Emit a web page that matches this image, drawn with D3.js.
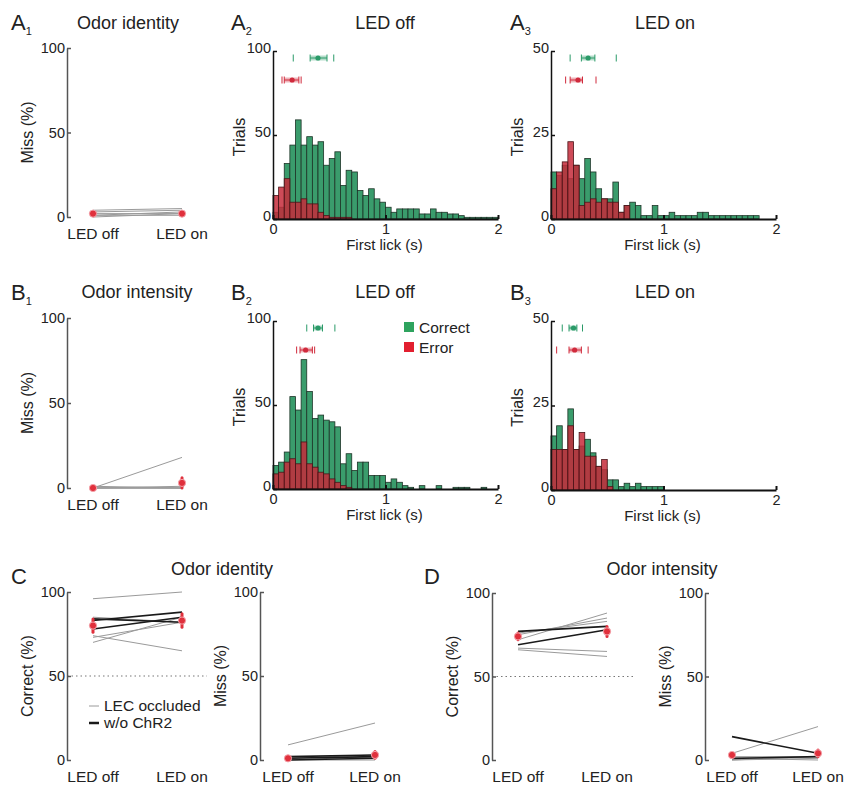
<!DOCTYPE html>
<html>
<head>
<meta charset="utf-8">
<script src="https://cdn.jsdelivr.net/npm/d3@7"></script>
<style>
body { margin: 0; background: #fff; }
text { font-family: "Liberation Sans", Arial, sans-serif; fill: #222; }
</style>
</head>
<body>
<svg width="848" height="787"></svg>
<script>
// ---- data ----
var conditions = ["LED off", "LED on"];
var binW = 0.05;
var binStarts = [0,0.05,0.1,0.15,0.2,0.25,0.3,0.35,0.4,0.45,0.5,0.55,0.6,0.65,0.7,0.75,0.8,0.85,0.9,0.95,
                 1,1.05,1.1,1.15,1.2,1.25,1.3,1.35,1.4,1.45,1.5,1.55,1.6,1.65,1.7,1.75,1.8,1.85,1.9,1.95];
var histXTicks = [0, 1, 2];

// A2: odor identity, LED off
var a2Correct = [4,7,33,44,59,44,49,44,46,32,36,40,20,29,28,17,14,18,12,10,7,4,6,6,6,6,3,3,6,4,4,3,3,2,1,1,1,1,1,1];
var a2Error   = [14,19,24,10,10,12,9,9,4,2,1,1,1,1,0,0,0,0,0,0,0,0,0,0,0,0,0,0,0,0,0,0,0,0,0,0,0,0,0,0];
// A3: odor identity, LED on
var a3Correct = [14,13,16,12,16,12,18,14,9,6,6,11,2,4,5,4,1,1,4,1,1,2,1,1,1,1,2,2,1,1,1,1,1,1,1,1,1,0,0,0];
var a3Error   = [9,14,17,23,16,4,5,6,5,6,5,5,2,4,0,0,0,0,0,0,0,0,0,0,0,0,0,0,0,0,0,0,0,0,0,0,0,0,0,0];
// B2: odor intensity, LED off
var b2Correct = [14,16,22,55,47,77,58,42,44,41,40,37,15,21,11,16,16,8,8,8,4,6,4,2,1,0,2,0,0,2,0,0,1,1,1,0,0,1,0,0];
var b2Error   = [9,10,16,18,15,28,15,13,10,9,6,4,2,1,0,0,0,0,0,0,0,0,0,0,0,0,0,0,0,0,0,0,0,0,0,0,0,0,0,0];
// B3: odor intensity, LED on
var b3Correct = [16,19,12,24,12,13,15,11,7,6,3,3,1,2,1,2,1,1,1,1,0,0,0,0,0,0,0,0,0,0,0,0,0,0,0,0,0,0,0,0];
var b3Error   = [12,12,12,19,12,17,10,10,7,9,1,0,0,0,0,0,0,0,0,0,0,0,0,0,0,0,0,0,0,0,0,0,0,0,0,0,0,0,0,0];

// first-lick summary markers: [low, q1, median, q3, high] (s)
var a2CorrectSum = [0.18, 0.33, 0.40, 0.48, 0.54];
var a2ErrorSum   = [0.08, 0.10, 0.17, 0.23, 0.25];
var a3CorrectSum = [0.17, 0.27, 0.33, 0.39, 0.58];
var a3ErrorSum   = [0.13, 0.17, 0.24, 0.28, 0.40];
var b2CorrectSum = [0.30, 0.36, 0.40, 0.44, 0.55];
var b2ErrorSum   = [0.21, 0.24, 0.29, 0.35, 0.37];
var b3CorrectSum = [0.10, 0.16, 0.20, 0.23, 0.28];
var b3ErrorSum   = [0.05, 0.16, 0.21, 0.27, 0.33];

// per-animal values [LED off, LED on] (%)
var a1Miss = [[3,4],[2,2],[1,1],[0,2],[4,5],[1,3]];
var a1MissMean = [2, 2], a1MissSem = [1, 1];
var b1Miss = [[0,18],[0,0],[0,0],[0,1],[1,0],[0,0]];
var b1MissMean = [0, 3], b1MissSem = [0.5, 3];

var cCorrectLec  = [[96,100],[74,65],[70,85],[73,82],[85,82]];
var cCorrectCtrl = [[83,88],[84,82],[78,85]];
var cCorrectMean = [80, 83], cCorrectSem = [4, 4];
var cMissLec  = [[9,22],[1,3],[0,2],[2,1],[0,0]];
var cMissCtrl = [[1,2],[2,3],[0,1]];
var cMissMean = [1, 3], cMissSem = [1, 2];

var dCorrectLec  = [[66,62],[67,65],[72,88],[75,85],[76,83]];
var dCorrectCtrl = [[77,80],[69,78]];
var dCorrectMean = [74, 77], dCorrectSem = [2, 3];
var dMissLec  = [[4,20],[0,1],[1,0],[0,2],[2,2]];
var dMissCtrl = [[14,4],[1,2]];
var dMissMean = [3, 4], dMissSem = [1, 2];

var lineYTicks = [0, 50, 100];

// ---- drawing ----
var svg = d3.select("svg");
var green = "#3a9c6c", red = "#c62b3b";

function panelLetter(x, y, letter, sub) {
    var t = svg.append("text").attr("x", x).attr("y", y).style("font-size", "22px");
    t.append("tspan").text(letter);
    if (sub) t.append("tspan").attr("dy", 5).style("font-size", "11px").text(sub);
}

function title(x, y, s) {
    svg.append("text").attr("x", x).attr("y", y).attr("text-anchor", "middle")
        .style("font-size", "18px").text(s);
}

function yLabel(x, y, s) {
    svg.append("text").attr("transform", "translate(" + x + "," + y + ") rotate(-90)")
        .attr("text-anchor", "middle").style("font-size", "16px").text(s);
}

function styleAxis(a, col, w) {
    a.selectAll("path").attr("stroke", col).attr("stroke-width", w);
    a.selectAll("line").attr("stroke", col).attr("stroke-width", w);
    a.selectAll("text").style("font-size", "14.5px").attr("fill", "#222");
}

function histPanel(p) {
    var x = d3.scaleLinear().domain([0, 2]).range([p.x0, p.x1]);
    var y = d3.scaleLinear().domain([0, p.ymax]).range([p.y0, p.y1]);
    var g = svg.append("g");
    var bw = x(binW) - x(0);

    function bars(counts, fill, stroke, op) {
        g.selectAll(null)
            .data(binStarts.map(function(b, i) { return {b: b, n: counts[i]}; })
                .filter(function(d) { return d.n > 0; }))
            .enter().append("rect")
            .attr("x", function(d) { return x(d.b); })
            .attr("width", bw)
            .attr("y", function(d) { return y(d.n); })
            .attr("height", function(d) { return y(0) - y(d.n); })
            .attr("fill", fill).attr("fill-opacity", op)
            .attr("stroke", stroke).attr("stroke-width", 0.8);
    }
    bars(p.correct, green, "#1d3327", 1);
    bars(p.error, red, "#4a1418", 0.85);

    function marker(s, yy, col) {
        g.append("rect").attr("x", x(s[1])).attr("y", yy - 2.5)
            .attr("width", x(s[3]) - x(s[1])).attr("height", 5)
            .attr("fill", col).attr("fill-opacity", 0.35);
        g.append("line").attr("x1", x(s[1])).attr("x2", x(s[3]))
            .attr("y1", yy).attr("y2", yy).attr("stroke", col).attr("stroke-width", 1);
        [s[0], s[1], s[3], s[4]].forEach(function(v) {
            g.append("line").attr("x1", x(v)).attr("x2", x(v))
                .attr("y1", yy - 3.5).attr("y2", yy + 3.5)
                .attr("stroke", col).attr("stroke-width", 1);
        });
        g.append("circle").attr("cx", x(s[2])).attr("cy", yy).attr("r", 2.6).attr("fill", col);
    }
    marker(p.cSum, p.y1 + 7, "#2a9a68");
    marker(p.eSum, p.y1 + 29, "#d02a3c");

    var ax = g.append("g").attr("transform", "translate(0," + p.y0 + ")")
        .call(d3.axisBottom(x).tickValues(histXTicks).tickFormat(d3.format("d"))
            .tickSizeInner(-4).tickSizeOuter(0).tickPadding(5));
    styleAxis(ax, "#111", 2);
    var ay = g.append("g").attr("transform", "translate(" + p.x0 + ",0)")
        .call(d3.axisLeft(y).tickValues(p.yTicks).tickSizeInner(-4).tickSizeOuter(0).tickPadding(2));
    styleAxis(ay, "#111", 1.5);
    ay.selectAll(".tick text").attr("dy", "0.1em");

    svg.append("text").attr("x", (p.x0 + p.x1) / 2 - 1).attr("y", p.y0 + 31)
        .attr("text-anchor", "middle").style("font-size", "15px").text("First lick (s)");
    yLabel(p.x0 - 28, (p.y0 + p.y1) / 2 + 2, "Trials");
}

function linePanel(p) {
    var x = d3.scalePoint().domain(conditions).range([p.off, p.on]);
    var y = d3.scaleLinear().domain([0, 100]).range([p.y0, p.y100]);
    var g = svg.append("g");

    if (p.chance) {
        g.append("line").attr("x1", p.ax).attr("x2", p.chanceEnd)
            .attr("y1", y(50)).attr("y2", y(50))
            .attr("stroke", "#777").attr("stroke-width", 1.2).attr("stroke-dasharray", "1.5,3");
    }

    var ay = g.append("g").attr("transform", "translate(" + p.ax + ",0)")
        .call(d3.axisLeft(y).tickValues(lineYTicks).tickSizeInner(-4).tickSizeOuter(0).tickPadding(2));
    styleAxis(ay, "#555", 1.5);

    function drawLines(rows, col, w) {
        g.selectAll(null).data(rows).enter().append("line")
            .attr("x1", x(conditions[0])).attr("x2", x(conditions[1]))
            .attr("y1", function(d) { return y(d[0]); })
            .attr("y2", function(d) { return y(d[1]); })
            .attr("stroke", col).attr("stroke-width", w);
    }
    drawLines(p.lec, "#9a9a9a", 1);
    if (p.ctrl) drawLines(p.ctrl, "#1a1a1a", 1.6);

    conditions.forEach(function(c, i) {
        g.append("line").attr("x1", x(c)).attr("x2", x(c))
            .attr("y1", y(p.mean[i] - p.sem[i])).attr("y2", y(p.mean[i] + p.sem[i]))
            .attr("stroke", "#e0303c").attr("stroke-width", 3).attr("stroke-linecap", "round");
        g.append("circle").attr("cx", x(c)).attr("cy", y(p.mean[i])).attr("r", 3.6)
            .attr("fill", "#e0303c").attr("stroke", "#f4a0a8").attr("stroke-width", 1);
    });

    g.selectAll(null).data(conditions).enter().append("text")
        .attr("x", function(d) { return x(d); }).attr("y", p.y0 + 22)
        .attr("text-anchor", "middle").style("font-size", "15.5px")
        .text(function(d) { return d; });

    yLabel(p.ax - 34, (p.y0 + p.y100) / 2, p.label);
}

// row A
panelLetter(11, 30, "A", "1");
title(128, 29, "Odor identity");
linePanel({ax: 67, y0: 217, y100: 48, off: 93, on: 182, lec: a1Miss, mean: a1MissMean, sem: a1MissSem, label: "Miss (%)"});

panelLetter(231, 30, "A", "2");
title(385, 29, "LED off");
histPanel({x0: 273, x1: 498, y0: 219, y1: 51, ymax: 100, yTicks: [0, 50, 100],
    correct: a2Correct, error: a2Error, cSum: a2CorrectSum, eSum: a2ErrorSum});

panelLetter(510, 30, "A", "3");
title(665, 29, "LED on");
histPanel({x0: 551, x1: 776, y0: 219, y1: 51, ymax: 50, yTicks: [0, 25, 50],
    correct: a3Correct, error: a3Error, cSum: a3CorrectSum, eSum: a3ErrorSum});

// row B
panelLetter(11, 300, "B", "1");
title(137, 298, "Odor intensity");
linePanel({ax: 67, y0: 488, y100: 318, off: 93, on: 182, lec: b1Miss, mean: b1MissMean, sem: b1MissSem, label: "Miss (%)"});

panelLetter(231, 300, "B", "2");
title(385, 298, "LED off");
histPanel({x0: 273, x1: 498, y0: 489, y1: 321, ymax: 100, yTicks: [0, 50, 100],
    correct: b2Correct, error: b2Error, cSum: b2CorrectSum, eSum: b2ErrorSum});

panelLetter(510, 300, "B", "3");
title(665, 298, "LED on");
histPanel({x0: 551, x1: 776, y0: 490, y1: 321, ymax: 50, yTicks: [0, 25, 50],
    correct: b3Correct, error: b3Error, cSum: b3CorrectSum, eSum: b3ErrorSum});

// legend in B2
var legend = [{name: "Correct", col: "#2ea35e"}, {name: "Error", col: "#e21f2f"}];
svg.selectAll(null).data(legend).enter().append("rect")
    .attr("x", 404).attr("y", function(d, i) { return 322 + i * 20; })
    .attr("width", 10).attr("height", 10).attr("fill", function(d) { return d.col; });
svg.selectAll(null).data(legend).enter().append("text")
    .attr("x", 419).attr("y", function(d, i) { return 333 + i * 20; })
    .style("font-size", "15.5px").text(function(d) { return d.name; });

// row C
panelLetter(11, 584, "C");
title(222, 575, "Odor identity");
linePanel({ax: 67, y0: 760, y100: 592, off: 93, on: 182, lec: cCorrectLec, ctrl: cCorrectCtrl,
    mean: cCorrectMean, sem: cCorrectSem, label: "Correct (%)", chance: true, chanceEnd: 207});
linePanel({ax: 260, y0: 760, y100: 592, off: 288, on: 375, lec: cMissLec, ctrl: cMissCtrl,
    mean: cMissMean, sem: cMissSem, label: "Miss (%)"});

var lineLegend = [{name: "LEC occluded", col: "#9a9a9a", w: 1}, {name: "w/o ChR2", col: "#1a1a1a", w: 2.5}];
svg.selectAll(null).data(lineLegend).enter().append("line")
    .attr("x1", 89).attr("x2", 99)
    .attr("y1", function(d, i) { return 706 + i * 17; }).attr("y2", function(d, i) { return 706 + i * 17; })
    .attr("stroke", function(d) { return d.col; }).attr("stroke-width", function(d) { return d.w; });
svg.selectAll(null).data(lineLegend).enter().append("text")
    .attr("x", 104).attr("y", function(d, i) { return 711 + i * 17; })
    .style("font-size", "15.5px").text(function(d) { return d.name; });

// row D
panelLetter(424, 584, "D");
title(662, 575, "Odor intensity");
linePanel({ax: 492, y0: 760, y100: 593, off: 518, on: 607, lec: dCorrectLec, ctrl: dCorrectCtrl,
    mean: dCorrectMean, sem: dCorrectSem, label: "Correct (%)", chance: true, chanceEnd: 633});
linePanel({ax: 705, y0: 760, y100: 593, off: 732, on: 818, lec: dMissLec, ctrl: dMissCtrl,
    mean: dMissMean, sem: dMissSem, label: "Miss (%)"});
</script>
</body>
</html>
